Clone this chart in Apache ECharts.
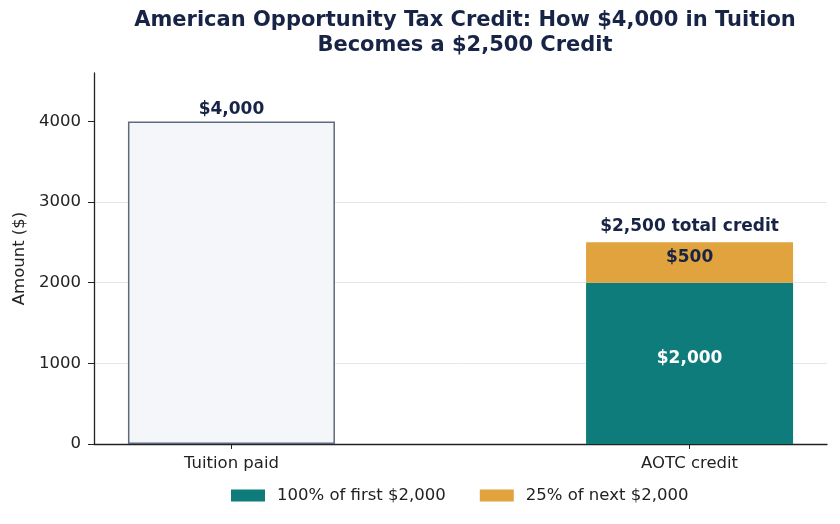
<!DOCTYPE html>
<html>
<head>
<meta charset="utf-8">
<script src="https://cdn.jsdelivr.net/npm/echarts@6/dist/echarts.min.js"></script>
<style>
  html, body { margin: 0; padding: 0; background: #fff; }
  #chart { width: 840px; height: 524px; }
</style>
</head>
<body>
<div id="chart"></div>
<script>
// AOTC: tuition paid vs. credit earned

const categories = ['Tuition paid', 'AOTC credit'];
const tuitionValues = [4000, null];
const firstTierValues = [null, 2000];   // 100% of first $2,000
const secondTierValues = [null, 500];   // 25% of next $2,000
const totalCredit = [null, 2500];
const yTicks = [0, 1000, 2000, 3000, 4000];

const navy = '#172445';
const font = 'DejaVu Sans';

// spread the two bars over 8 bands so they sit where the original puts them
const slots = [1, 6];
const xLabels = new Array(8).fill('');
slots.forEach((s, i) => { xLabels[s] = categories[i]; });
const spread = arr => xLabels.map((_, i) => {
    const k = slots.indexOf(i);
    return k < 0 ? null : arr[k];
});

const chart = echarts.init(document.getElementById('chart'));

const money = v => '$' + v.toLocaleString('en-US');

const option = {
    animation: false,
    textStyle: { fontFamily: font },
    title: {
        text: 'American Opportunity Tax Credit: How $4,000 in Tuition\nBecomes a $2,500 Credit',
        left: 460,
        textAlign: 'center',
        top: 3,
        textStyle: {
            fontFamily: font,
            fontSize: 21,
            fontWeight: 'bold',
            color: navy,
            lineHeight: 25
        }
    },
    legend: {
        top: 482,
        left: 226,
        itemWidth: 34,
        itemHeight: 12,
        itemGap: 34,
        icon: 'rect',
        data: ['100% of first $2,000', '25% of next $2,000'],
        textStyle: { fontFamily: font, fontSize: 16.5, color: '#222', padding: [0, 0, 0, 7] }
    },
    grid: { left: 94, right: 13, top: 73, bottom: 80 },
    xAxis: {
        type: 'category',
        data: xLabels,
        splitLine: { show: false },
        axisLine: { lineStyle: { color: '#222', width: 1.3 } },
        axisTick: {
            show: true,
            alignWithLabel: true,
            interval: (i, v) => v !== '',
            length: 5,
            lineStyle: { color: '#222' }
        },
        axisLabel: {
            interval: 0,
            fontSize: 16.5,
            color: '#222',
            margin: 11
        }
    },
    yAxis: {
        type: 'value',
        min: 0,
        max: 4600,
        interval: 1000,
        name: 'Amount ($)',
        nameLocation: 'middle',
        nameGap: 64,
        nameTextStyle: { fontFamily: font, fontSize: 16.5, color: '#222' },
        axisLine: { show: true, lineStyle: { color: '#222', width: 1.3 } },
        axisTick: { show: true, customValues: yTicks, length: 6, lineStyle: { color: '#222' } },
        axisLabel: { customValues: yTicks, formatter: v => String(v), fontSize: 16.5, color: '#222', margin: 13 },
        splitLine: {
            show: true,
            showMinLine: false,
            showMaxLine: false,
            lineStyle: { color: '#e3e6ea', width: 1 }
        }
    },
    series: [
        {
            name: 'Tuition paid',
            type: 'bar',
            barWidth: 207,
            barGap: '-100%',
            data: spread(tuitionValues),
            itemStyle: { color: '#f4f6fa', borderColor: '#5e6a7d', borderWidth: 1.5 },
            label: {
                show: true,
                position: 'top',
                distance: 3,
                formatter: p => money(p.value),
                fontSize: 17,
                fontWeight: 'bold',
                color: navy
            }
        },
        {
            name: '100% of first $2,000',
            type: 'bar',
            stack: 'credit',
            barWidth: 207,
            barGap: '-100%',
            data: spread(firstTierValues),
            itemStyle: { color: '#0e7c7a' },
            label: {
                show: true,
                position: 'inside',
                offset: [0, -5],
                formatter: p => money(p.value),
                fontSize: 17,
                fontWeight: 'bold',
                color: '#fff'
            }
        },
        {
            name: '25% of next $2,000',
            type: 'bar',
            stack: 'credit',
            barWidth: 207,
            barGap: '-100%',
            data: spread(secondTierValues),
            itemStyle: { color: '#e0a33e' },
            label: {
                show: true,
                position: 'inside',
                offset: [0, -5],
                formatter: p => money(p.value),
                fontSize: 17,
                fontWeight: 'bold',
                color: navy
            }
        },
        {
            name: 'total',
            type: 'scatter',
            symbolSize: 0,
            itemStyle: { opacity: 1 },
            data: spread(totalCredit),
            label: {
                show: true,
                position: 'top',
                distance: 7,
                formatter: p => money(p.value) + ' total credit',
                fontSize: 17,
                fontWeight: 'bold',
                color: navy
            },
            silent: true
        }
    ]
};

chart.setOption(option);
</script>
</body>
</html>
